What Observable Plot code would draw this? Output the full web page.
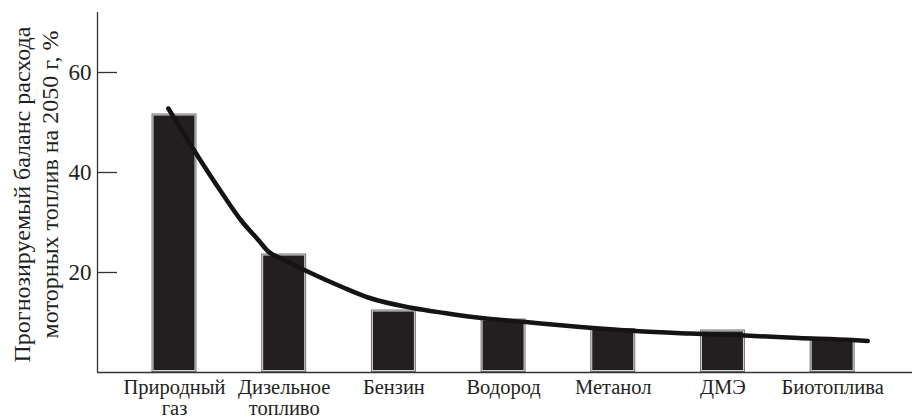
<!DOCTYPE html>
<html>
<head>
<meta charset="utf-8">
<script src="https://cdn.jsdelivr.net/npm/d3@7"></script>
<script src="https://cdn.jsdelivr.net/npm/@observablehq/plot@0.6"></script>
<style>
  html, body { margin: 0; padding: 0; background: #fff; }
  #chart svg { display: block; }
  #chart svg, #chart svg text { font-family: "Liberation Serif", "Times New Roman", serif !important; }
</style>
</head>
<body>
<div id="chart"></div>
<script>
// Categories (x) and bar values (%)
const categories = ["Природный\nгаз", "Дизельное\nтопливо", "Бензин", "Водород", "Метанол", "ДМЭ", "Биотоплива"];
const values = [51.7, 23.7, 12.5, 10.7, 8.8, 8.5, 6.8];

// Trend curve: position in category units, value in %
const trendPos = [-0.056, 0.168, 0.448, 0.608, 0.768, 0.85, 1.0, 1.193, 1.538, 1.765, 2.17, 2.46, 2.76, 3.2, 3.7, 4.2, 4.7, 5.2, 5.69, 6.18, 6.32];
const trendVal = [52.8, 44.8, 35.4, 30.4, 26.4, 24.3, 22.5, 20.4, 17.0, 15.0, 12.9, 11.9, 11.0, 10.1, 9.1, 8.3, 7.8, 7.4, 6.9, 6.5, 6.3];

// Y ticks and axis title
const yTicks = [20, 40, 60];
const yTitle1 = "Прогнозируемый баланс расхода";
const yTitle2 = "моторных топлив на 2050 г, %";

const bars = categories.map((c, i) => ({i, v: values[i]}));
const trend = trendPos.map((p, k) => ({p, v: trendVal[k]}));
const half = 0.205;
const xDomain = [-0.702, 6.728];
const ink = "#231f20";
const serif = "Liberation Serif";

const chart = Plot.plot({
  width: 912,
  height: 417,
  marginLeft: 97,
  marginRight: 0,
  marginTop: 12,
  marginBottom: 45,
  style: {fontFamily: serif, color: ink, background: "#fff"},
  x: {type: "linear", domain: xDomain, axis: null, label: null},
  y: {domain: [0, 72], axis: null, label: null},
  marks: [
    // bars: outer grey edge, light inner edge, dark fill
    Plot.rectY(bars, {x1: d => d.i - half, x2: d => d.i + half, y: "v", fill: "#747474"}),
    Plot.rectY(bars, {x1: d => d.i - half, x2: d => d.i + half, y: "v", fill: "#d4d4d4", inset: 1}),
    Plot.rectY(bars, {x1: d => d.i - half, x2: d => d.i + half, y: "v", fill: ink, inset: 2}),
    // trend curve
    Plot.line(trend, {x: "p", y: "v", curve: "monotone-x", stroke: "#151314", strokeWidth: 4.5, strokeLinecap: "round"}),
    // axes lines
    Plot.ruleY([0], {stroke: "#333", strokeWidth: 1.3}),
    Plot.ruleX([xDomain[0]], {stroke: "#333", strokeWidth: 1.3}),
    // inward ticks
    Plot.ruleY(yTicks, {stroke: "#333", strokeWidth: 1.3, insetRight: 815 - 20}),
    Plot.axisY({ticks: yTicks, tickSize: 0, tickPadding: 6, fontSize: 23, fontFamily: serif, label: null}),
    Plot.axisX({ticks: d3.range(categories.length), tickSize: 0, tickPadding: 7, fontSize: 20.5, lineHeight: 1.02,
      fontFamily: serif, label: null, tickFormat: i => categories[i]}),
    // y title (two lines)
    Plot.text([yTitle1], {text: d => d, frameAnchor: "left", textAnchor: "middle", dx: -75, dy: 2, rotate: -90, fontSize: 24, fontFamily: serif, fill: ink}),
    Plot.text([yTitle2], {text: d => d, frameAnchor: "left", textAnchor: "middle", dx: -47, dy: -8, rotate: -90, fontSize: 24, fontFamily: serif, fill: ink})
  ]
});
document.getElementById("chart").append(chart);
</script>
</body>
</html>
